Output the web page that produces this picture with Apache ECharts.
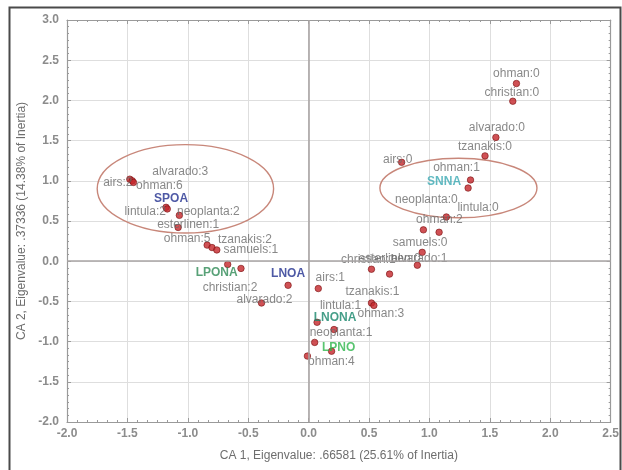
<!DOCTYPE html>
<html>
<head>
<meta charset="utf-8">
<script src="https://cdn.jsdelivr.net/npm/echarts@6/dist/echarts.min.js"></script>
<style>
  html, body { margin: 0; padding: 0; background: #ffffff; }
  #chart { width: 622px; height: 470px; }
</style>
</head>
<body>
<div id="chart"></div>
<script>
// Correspondence analysis: category coordinates on the first two dimensions
const pointNames = [
  'ohman:0', 'christian:0', 'alvarado:0', 'tzanakis:0', 'airs:0', 'ohman:1', 'SNNA',
  'neoplanta:0', 'lintula:0', 'ohman:2', 'samuels:0', 'alvarado:1', 'esterlinen:0',
  'christian:1', 'airs:1', 'tzanakis:1', 'ohman:3', 'lintula:1', 'LNONA', 'neoplanta:1',
  'LPNO', 'ohman:4', 'airs:2', 'alvarado:3', 'ohman:6', 'SPOA', 'lintula:2',
  'neoplanta:2', 'esterlinen:1', 'ohman:5', 'tzanakis:2', 'samuels:1', 'LPONA',
  'christian:2', 'LNOA', 'alvarado:2'
];
const dim1 = [
  1.72, 1.69, 1.55, 1.46, 0.77, 1.34, 1.32,
  1.14, 1.08, 0.95, 0.94, 0.90, 0.67,
  0.52, 0.08, 0.52, 0.54, 0.19, 0.07, 0.21,
  0.05, -0.01, -1.48, -1.46, -1.45, -1.18, -1.17,
  -1.07, -1.08, -0.84, -0.80, -0.76, -0.67,
  -0.56, -0.17, -0.39
];
const dim2 = [
  2.21, 1.99, 1.54, 1.31, 1.23, 1.01, 0.91,
  0.55, 0.36, 0.39, 0.11, -0.05, -0.16,
  -0.10, -0.34, -0.52, -0.55, -1.12, -0.76, -0.85,
  -1.01, -1.18, 1.02, 1.00, 0.98, 0.67, 0.65,
  0.57, 0.42, 0.20, 0.17, 0.14, -0.04,
  -0.09, -0.30, -0.52
];

// Group outlines (centre and half-axes in CA units)
const groupCx = [-1.02, 1.24];
const groupCy = [0.90, 0.91];
const groupRx = [0.73, 0.65];
const groupRy = [0.55, 0.37];

// Axis ticks
const xTicks = [-2.0, -1.5, -1.0, -0.5, 0.0, 0.5, 1.0, 1.5, 2.0, 2.5];
const yTicks = [-2.0, -1.5, -1.0, -0.5, 0.0, 0.5, 1.0, 1.5, 2.0, 2.5, 3.0];

const xTitle = 'CA 1, Eigenvalue: .66581 (25.61% of Inertia)';
const yTitle = 'CA 2, Eigenvalue: .37336 (14.38% of Inertia)';

// Bold colours for the supplementary row categories
const rowColors = {
  SPOA: '#22308e', SNNA: '#3aa9b3', LNOA: '#22308e',
  LPONA: '#2e8a55', LNONA: '#17866a', LPNO: '#2fb54c'
};

// Label placement (pixel shift from each marker)
const labelShift = {
  'ohman:0': [0, -10], 'christian:0': [-1, -9], 'alvarado:0': [1, -10], 'tzanakis:0': [0, -9],
  'airs:0': [-4, -3], 'ohman:1': [-14, -12], 'SNNA': [-24, -6], 'neoplanta:0': [-20, -17],
  'lintula:0': [39, -25], 'ohman:2': [16, -10], 'samuels:0': [-2, -10], 'alvarado:1': [2, -7],
  'esterlinen:0': [0, -15], 'christian:1': [-3, -10], 'airs:1': [12, -11], 'tzanakis:1': [1, -11],
  'ohman:3': [7, 8], 'lintula:1': [9, -46], 'LNONA': [18, -5], 'neoplanta:1': [7, 3],
  'LPNO': [24, 5], 'ohman:4': [24, 6], 'airs:2': [-12, 3], 'alvarado:3': [48, -9],
  'ohman:6': [26, 3], 'SPOA': [5, -9], 'lintula:2': [-22, 3], 'neoplanta:2': [29, -4],
  'esterlinen:1': [10, -3], 'ohman:5': [-20, -6], 'tzanakis:2': [33, -8], 'samuels:1': [34, 0],
  'LPONA': [-11, 8], 'christian:2': [-11, 19], 'LNOA': [0, -12], 'alvarado:2': [3, -3]
};

const FONT = '"Liberation Sans", Arial, sans-serif';

const points = pointNames.map((name, i) => {
  const isRow = Object.prototype.hasOwnProperty.call(rowColors, name);
  return {
    name: name,
    value: [dim1[i], dim2[i]],
    label: {
      show: true,
      position: 'inside',
      offset: labelShift[name] || [0, -10],
      formatter: name,
      color: isRow ? rowColors[name] : '#6a6a6a',
      fontWeight: isRow ? 'bold' : 'normal',
      fontSize: 12,
      fontFamily: FONT
    }
  };
});

const outlines = groupCx.map((cx, i) => [cx, groupCy[i], groupRx[i], groupRy[i]]);

const tickFmt = v => (Math.round(v * 10) / 10).toFixed(1);

const frameAxis = {
  axisLine: { show: true, onZero: false, lineStyle: { color: '#9a9a9a', width: 1.2 } },
  axisTick: { show: true, inside: true, length: 4, lineStyle: { color: '#9a9a9a' } },
  minorTick: { show: true, splitNumber: 6, length: 2, lineStyle: { color: '#9a9a9a' } }
};

const chart = echarts.init(document.getElementById('chart'), null, { renderer: 'canvas' });
chart.setOption({
  animation: false,
  backgroundColor: '#ffffff',
  textStyle: { fontFamily: FONT },
  grid: { left: 67, right: 11, top: 20, bottom: 48 },
  graphic: [{
    type: 'rect',
    left: 7, top: 5,
    shape: { width: 611, height: 480 },
    style: { fill: 'none', stroke: '#4a4a4a', lineWidth: 2 },
    silent: true
  }],
  xAxis: [{
    type: 'value',
    min: xTicks[0], max: xTicks[xTicks.length - 1], interval: 0.5,
    name: xTitle, nameLocation: 'middle', nameGap: 28,
    nameTextStyle: { color: '#6e6e6e', fontSize: 12, fontFamily: FONT },
    axisLine: frameAxis.axisLine, axisTick: frameAxis.axisTick, minorTick: frameAxis.minorTick,
    axisLabel: { color: '#8c8c8c', fontSize: 12, fontWeight: 'bold', margin: 6, formatter: tickFmt },
    splitLine: { show: true, lineStyle: { color: '#dedede', width: 1 } }
  }, {
    type: 'value', position: 'top',
    min: xTicks[0], max: xTicks[xTicks.length - 1], interval: 0.5,
    axisLine: frameAxis.axisLine, axisTick: frameAxis.axisTick, minorTick: frameAxis.minorTick,
    axisLabel: { show: false }, splitLine: { show: false }
  }],
  yAxis: [{
    type: 'value',
    min: yTicks[0], max: yTicks[yTicks.length - 1], interval: 0.5,
    name: yTitle, nameLocation: 'middle', nameGap: 37, nameRotate: 90,
    nameTextStyle: { color: '#6e6e6e', fontSize: 12, fontFamily: FONT },
    axisLine: frameAxis.axisLine, axisTick: frameAxis.axisTick, minorTick: frameAxis.minorTick,
    axisLabel: { color: '#8c8c8c', fontSize: 12, fontWeight: 'bold', margin: 8, formatter: tickFmt },
    splitLine: { show: true, lineStyle: { color: '#dedede', width: 1 } }
  }, {
    type: 'value', position: 'right',
    min: yTicks[0], max: yTicks[yTicks.length - 1], interval: 0.5,
    axisLine: frameAxis.axisLine, axisTick: frameAxis.axisTick, minorTick: frameAxis.minorTick,
    axisLabel: { show: false }, splitLine: { show: false }
  }],
  series: [{
    type: 'custom',
    xAxisIndex: 0, yAxisIndex: 0,
    silent: true,
    z: 1,
    data: outlines,
    renderItem: function (params, api) {
      const c = api.coord([api.value(0), api.value(1)]);
      const s = api.size([api.value(2), api.value(3)]);
      const rx = s[0], ry = s[1];
      const d = 'M ' + (c[0] - rx) + ' ' + c[1] +
        ' A ' + rx + ' ' + ry + ' 0 1 0 ' + (c[0] + rx) + ' ' + c[1] +
        ' A ' + rx + ' ' + ry + ' 0 1 0 ' + (c[0] - rx) + ' ' + c[1] + ' Z';
      return {
        type: 'path',
        shape: { pathData: d },
        style: { fill: 'none', stroke: '#c8877a', lineWidth: 1.4 }
      };
    }
  }, {
    type: 'scatter',
    xAxisIndex: 0, yAxisIndex: 0,
    z: 3,
    symbol: 'circle',
    symbolSize: 6.5,
    itemStyle: { color: '#c4262a', borderColor: '#7d1414', borderWidth: 0.8 },
    data: points,
    markLine: {
      silent: true,
      symbol: 'none',
      label: { show: false },
      lineStyle: { color: '#a9a4a4', type: 'solid', width: 1.6 },
      data: [{ xAxis: 0 }, { yAxis: 0 }]
    }
  }]
});
</script>
</body>
</html>
